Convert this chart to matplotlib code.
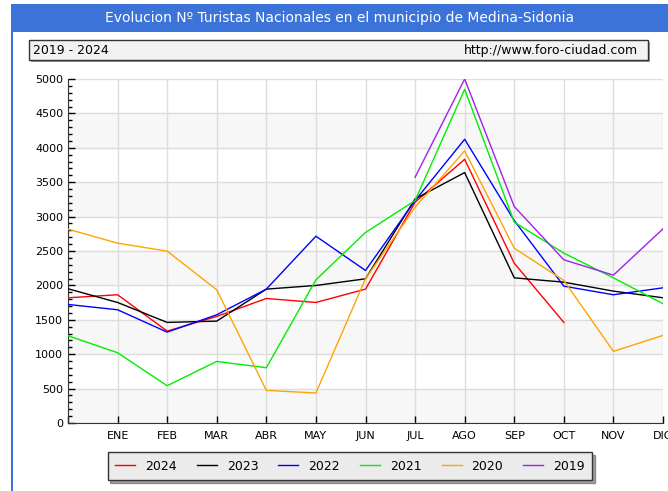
import numpy as np
import matplotlib
matplotlib.use('Agg')
import matplotlib.pyplot as plt
from matplotlib.patches import Rectangle

# position 0 is December of the year before, then ENE..DIC
months = ['', 'ENE', 'FEB', 'MAR', 'ABR', 'MAY', 'JUN',
          'JUL', 'AGO', 'SEP', 'OCT', 'NOV', 'DIC']

v2024 = [1820, 1864, 1336, 1549, 1810, 1752, 1946, 3209, 3833, 2323, 1462]
v2023 = [1951, 1752, 1462, 1481, 1946, 1999, 2096, 3257, 3640, 2110, 2047, 1917, 1820]
v2022 = [1723, 1646, 1321, 1573, 1946, 2715, 2217, 3233, 4124, 2943, 1989, 1864, 1965]
v2021 = [1268, 1021, 542, 895, 803, 2081, 2769, 3233, 4850, 2919, 2469, 2110, 1733]
v2020 = [2817, 2614, 2498, 1936, 474, 436, 2096, 3136, 3954, 2541, 2072, 1041, 1273]
v2019 = [3572, 5000, 3146, 2372, 2149, 2822]   # JUL..DIC

series = [('2024', v2024, 0, '#ff0000'),
          ('2023', v2023, 0, '#000000'),
          ('2022', v2022, 0, '#0000ff'),
          ('2021', v2021, 0, '#00ee00'),
          ('2020', v2020, 0, '#ffa500'),
          ('2019', v2019, 7, '#a020f0')]

fig = plt.figure(figsize=(6.68, 4.91), dpi=100)
W, H = 668, 491

# title bar + left border
fig.patches.append(Rectangle((12/W, 1-32/H), 1-12/W, 28/H, transform=fig.transFigure,
                             facecolor='#3b73d9', edgecolor='none'))
fig.patches.append(Rectangle((11/W, 0), 2/W, 1-4/H, transform=fig.transFigure,
                             facecolor='#3b73d9', edgecolor='none'))
fig.text(0.5 + 6/W, 1-18/H, 'Evolucion Nº Turistas Nacionales en el municipio de Medina-Sidonia',
         color='white', fontsize=10, ha='center', va='center')

# subtitle box
fig.patches.append(Rectangle((31/W, 1-62/H), 619/W, 20/H, transform=fig.transFigure,
                             facecolor='#999999', edgecolor='none'))
fig.patches.append(Rectangle((29/W, 1-60/H), 619/W, 20/H, transform=fig.transFigure,
                             facecolor='#f2f2f2', edgecolor='#333333', linewidth=1))
fig.text(33/W, 1-50/H, '2019 - 2024', fontsize=9, ha='left', va='center')
fig.text(638/W, 1-50/H, 'http://www.foro-ciudad.com', fontsize=9, ha='right', va='center')

ax = fig.add_axes([68/W, 1-423/H, 595/W, 344/H])
for k in range(0, 5000, 1000):
    ax.axhspan(k, k + 500, color='#f7f7f7', zorder=0)

for name, vals, start, col in series:
    x = np.arange(start, start + len(vals))
    ax.plot(x, vals, color=col, linewidth=1, label=name, zorder=3)

ax.set_xlim(0, 12)
ax.set_ylim(0, 5000)
ax.set_xticks(range(13))
ax.set_xticklabels(months, fontsize=8)
ax.set_yticks(range(0, 5001, 500))
ax.set_yticks(range(0, 5001, 100), minor=True)
ax.tick_params(axis='y', labelsize=8)
ax.tick_params(which='major', direction='in', length=5, width=1)
ax.tick_params(which='minor', direction='in', length=3, width=1)
ax.tick_params(axis='x', which='minor', length=0)
ax.tick_params(axis='x', pad=6)
ax.grid(True, color='#dddddd', linewidth=1, zorder=1)
ax.set_axisbelow(True)
for s in ['top', 'right']:
    ax.spines[s].set_visible(False)
ax.spines['left'].set_color('#333333')
ax.spines['bottom'].set_color('#333333')

leg = fig.legend(loc='center', bbox_to_anchor=(350/W, 1-466/H), ncol=6, fontsize=9,
                 frameon=True, fancybox=False, shadow=True, handlelength=1.6,
                 columnspacing=1.6, borderpad=0.6)
leg.get_frame().set_facecolor('#ebebeb')
leg.get_frame().set_edgecolor('#333333')

fig.savefig('out.png', dpi=100)
